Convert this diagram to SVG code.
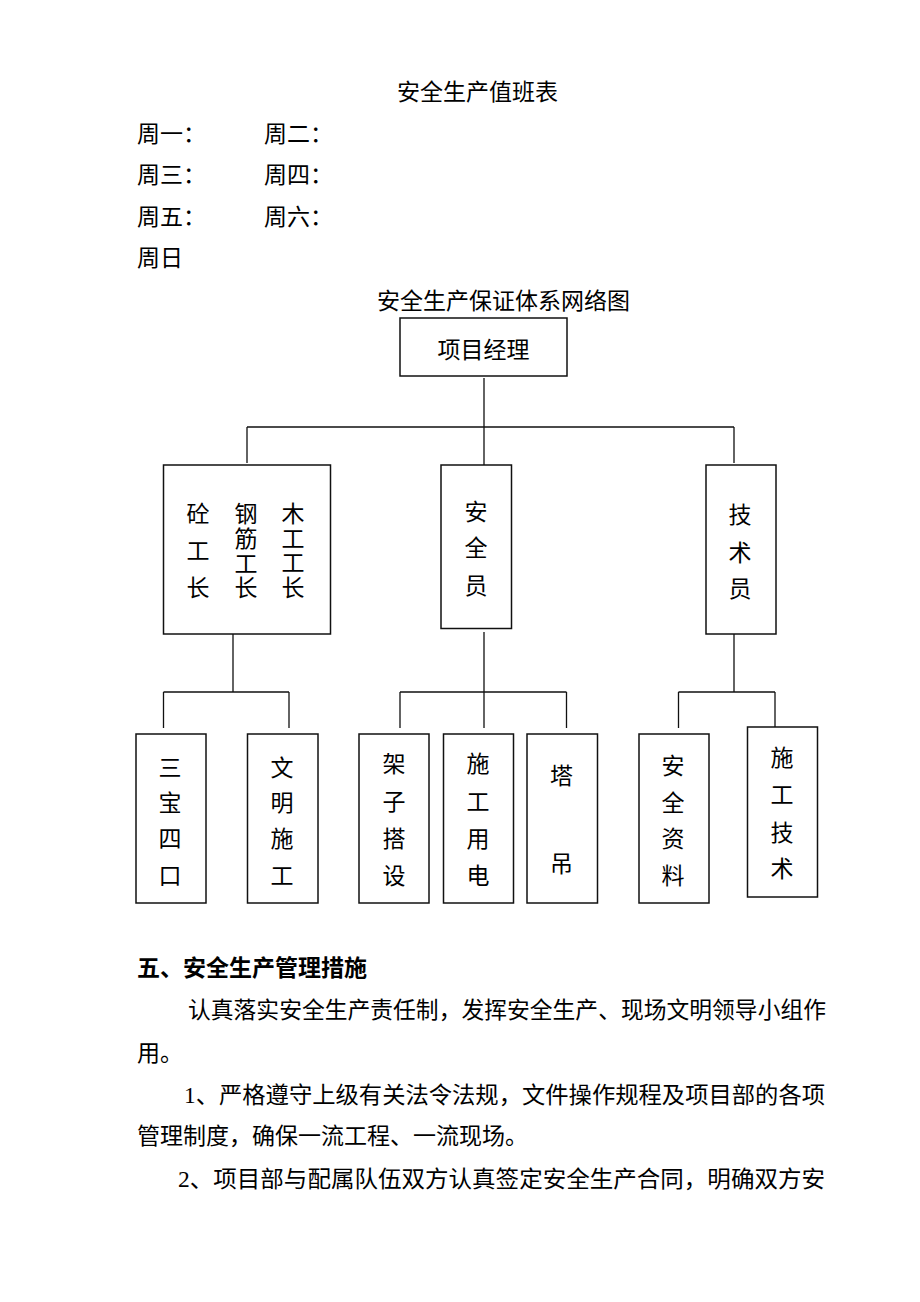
<svg xmlns="http://www.w3.org/2000/svg" width="920" height="1302" viewBox="0 0 920 1302">
<style>
text{font-family:"Liberation Serif","Noto Sans CJK SC",serif;font-size:23px;fill:#000}
.c{text-anchor:middle}
.b{font-weight:bold}
.box{fill:#fff;stroke:#111;stroke-width:1.5}
.ln{fill:none;stroke:#111;stroke-width:1.3}
</style>
<rect width="920" height="1302" fill="#fff"/>
<g id="duty">
<text x="397" y="100">安全生产值班表</text>
<text x="137" y="142">周一：</text><text x="264" y="142">周二：</text>
<text x="137" y="183">周三：</text><text x="264" y="183">周四：</text>
<text x="137" y="225">周五：</text><text x="264" y="225">周六：</text>
<text x="137" y="266">周日</text>
</g>
<text x="377" y="309">安全生产保证体系网络图</text>
<g id="connectors">
<path class="ln" d="M484 378V465M247 427H734M247 427V463M734 427V463"/>
<path class="ln" d="M233 634V692M163.5 692H289M163.5 692V728M289 692V728"/>
<path class="ln" d="M484 632V728M400 692H566.5M400 692V728M566.5 692V728"/>
<path class="ln" d="M734 634V692M678.5 692H775M678.5 692V728M775 692V727"/>
</g>
<g id="pm"><rect class="box" x="400" y="318" width="167" height="58"/><text class="c" x="483.5" y="358">项目经理</text></g>
<g id="foremen"><rect class="box" x="163.5" y="465" width="167" height="169"/>
<text class="c" x="198" y="522">砼</text><text class="c" x="198" y="559">工</text><text class="c" x="198" y="596">长</text>
<text class="c" x="246" y="522">钢</text><text class="c" x="246" y="547">筋</text><text class="c" x="246" y="572">工</text><text class="c" x="246" y="596">长</text>
<text class="c" x="293" y="522">木</text><text class="c" x="293" y="546.5">工</text><text class="c" x="293" y="571">工</text><text class="c" x="293" y="596">长</text>
</g>
<g id="safety"><rect class="box" x="441" y="465" width="70.5" height="163.5"/>
<text class="c" x="476" y="520">安</text><text class="c" x="476" y="556">全</text><text class="c" x="476" y="594">员</text></g>
<g id="tech"><rect class="box" x="706" y="465" width="70" height="169"/>
<text class="c" x="740" y="523">技</text><text class="c" x="740" y="561">术</text><text class="c" x="740" y="597">员</text></g>
<g id="n1"><rect class="box" x="136" y="734" width="70" height="169"/>
<text class="c" x="170" y="776">三</text><text class="c" x="170" y="811">宝</text><text class="c" x="170" y="847">四</text><text class="c" x="170" y="884">口</text></g>
<g id="n2"><rect class="box" x="247.5" y="734" width="70.5" height="169"/>
<text class="c" x="282" y="776">文</text><text class="c" x="282" y="811">明</text><text class="c" x="282" y="847">施</text><text class="c" x="282" y="884">工</text></g>
<g id="n3"><rect class="box" x="359" y="734" width="70" height="169"/>
<text class="c" x="394" y="772">架</text><text class="c" x="394" y="810">子</text><text class="c" x="394" y="847">搭</text><text class="c" x="394" y="884">设</text></g>
<g id="n4"><rect class="box" x="443.5" y="734" width="70" height="169"/>
<text class="c" x="478" y="772">施</text><text class="c" x="478" y="810">工</text><text class="c" x="478" y="847">用</text><text class="c" x="478" y="884">电</text></g>
<g id="n5"><rect class="box" x="527" y="734" width="70.5" height="169"/>
<text class="c" x="561.5" y="784">塔</text><text class="c" x="561.5" y="872">吊</text></g>
<g id="n6"><rect class="box" x="639" y="734" width="70" height="169"/>
<text class="c" x="673" y="774">安</text><text class="c" x="673" y="811">全</text><text class="c" x="673" y="847">资</text><text class="c" x="673" y="884">料</text></g>
<g id="n7"><rect class="box" x="747.5" y="727" width="70" height="170"/>
<text class="c" x="782" y="766">施</text><text class="c" x="782" y="803">工</text><text class="c" x="782" y="841">技</text><text class="c" x="782" y="877">术</text></g>
<g id="body">
<text class="b" x="137" y="976">五、安全生产管理措施</text>
<text x="188" y="1018" textLength="638" lengthAdjust="spacingAndGlyphs">认真落实安全生产责任制，发挥安全生产、现场文明领导小组作</text>
<text x="137" y="1061">用。</text>
<text x="184" y="1103" textLength="641" lengthAdjust="spacingAndGlyphs">1、严格遵守上级有关法令法规，文件操作规程及项目部的各项</text>
<text x="137" y="1144">管理制度，确保一流工程、一流现场。</text>
<text x="178" y="1187" textLength="647" lengthAdjust="spacingAndGlyphs">2、项目部与配属队伍双方认真签定安全生产合同，明确双方安</text>
</g>
</svg>
